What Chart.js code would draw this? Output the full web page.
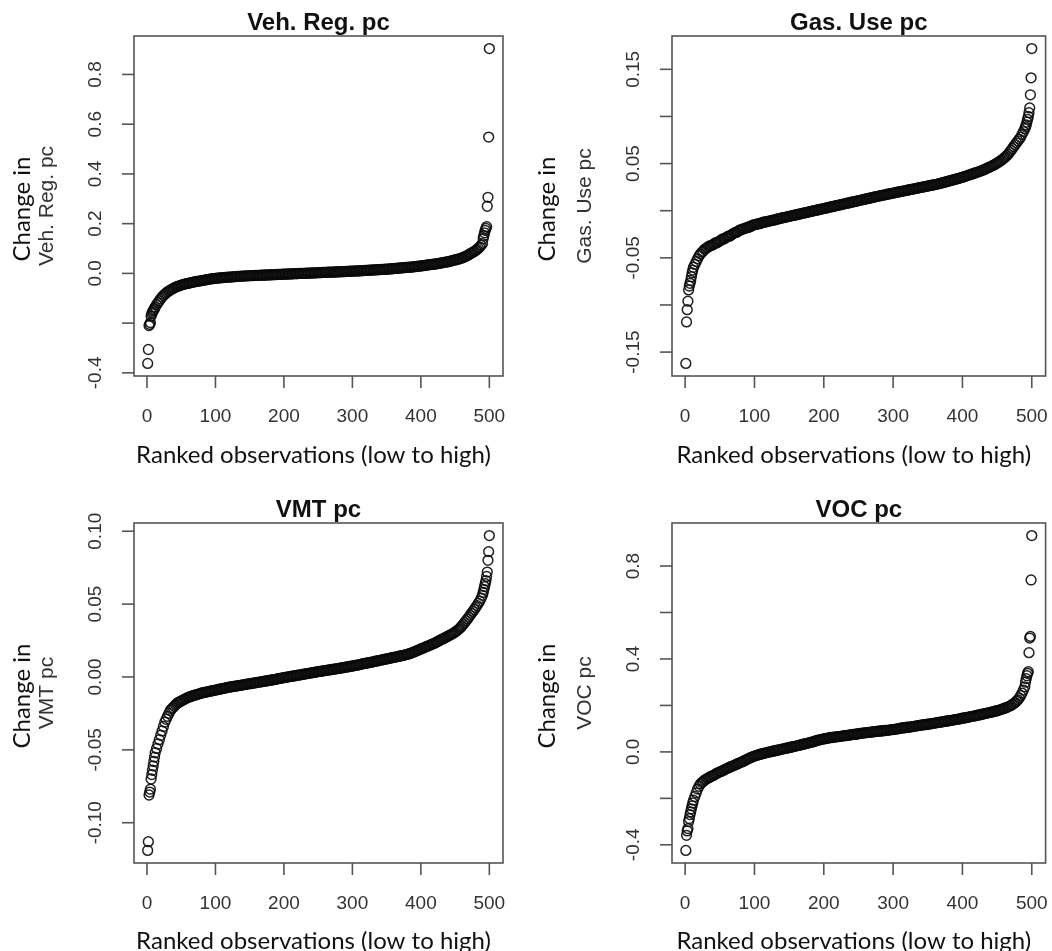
<!DOCTYPE html>
<html>
<head>
<meta charset="utf-8">
<script src="https://cdn.jsdelivr.net/npm/chart.js@4/dist/chart.umd.min.js"></script>
<style>
  body { margin: 0; background: #fff; width: 1052px; height: 951px; position: relative; overflow: hidden; }
  .panel { position: absolute; }
  .panel canvas { display: block; }
</style>
</head>
<body>
<div class="panel" style="left:0;top:0"><canvas id="vehReg" width="526" height="475"></canvas></div>
<div class="panel" style="left:526px;top:0"><canvas id="gasUse" width="526" height="475"></canvas></div>
<div class="panel" style="left:0;top:475px"><canvas id="vmt" width="526" height="476"></canvas></div>
<div class="panel" style="left:526px;top:475px"><canvas id="voc" width="526" height="476"></canvas></div>
<script>
// ranked observation numbers (same ranks for every panel)
const lowRanks = [1, 2, 3, 4, 5, 6, 7, 8, 9, 10, 11];
const midRanks = [
  12, 14, 16, 18, 20, 22, 24, 26, 28, 30,
  32, 34, 36, 38, 40, 42, 44, 46, 48, 50,
  52, 54, 56, 58, 60, 62, 64, 66, 68, 70,
  72, 74, 76, 78, 80, 82, 84, 86, 88, 90,
  92, 94, 96, 98, 100, 102, 104, 106, 108, 110,
  112, 114, 116, 118, 120, 122, 124, 126, 128, 130,
  132, 134, 136, 138, 140, 142, 144, 146, 148, 150,
  152, 154, 156, 158, 160, 162, 164, 166, 168, 170,
  172, 174, 176, 178, 180, 182, 184, 186, 188, 190,
  192, 194, 196, 198, 200, 202, 204, 206, 208, 210,
  212, 214, 216, 218, 220, 222, 224, 226, 228, 230,
  232, 234, 236, 238, 240, 242, 244, 246, 248, 250,
  252, 254, 256, 258, 260, 262, 264, 266, 268, 270,
  272, 274, 276, 278, 280, 282, 284, 286, 288, 290,
  292, 294, 296, 298, 300, 302, 304, 306, 308, 310,
  312, 314, 316, 318, 320, 322, 324, 326, 328, 330,
  332, 334, 336, 338, 340, 342, 344, 346, 348, 350,
  352, 354, 356, 358, 360, 362, 364, 366, 368, 370,
  372, 374, 376, 378, 380, 382, 384, 386, 388, 390,
  392, 394, 396, 398, 400, 402, 404, 406, 408, 410,
  412, 414, 416, 418, 420, 422, 424, 426, 428, 430,
  432, 434, 436, 438, 440, 442, 444, 446, 448, 450,
  452, 454, 456, 458, 460, 462, 464, 466, 468, 470,
  472, 474, 476, 478, 480, 482, 484, 486, 488, 490
];
const highRanks = [491, 492, 493, 494, 495, 496, 497, 498, 499, 500];
const ranks = [...lowRanks, ...midRanks, ...highRanks];

const vehRegValues = [
  -0.362, -0.306, -0.210, -0.205, -0.198, -0.172, -0.162, -0.156, -0.150, -0.146, -0.141,
  -0.135, -0.126, -0.118, -0.110, -0.102, -0.095, -0.089, -0.084, -0.079, -0.074,
  -0.071, -0.067, -0.064, -0.061, -0.058, -0.055, -0.053, -0.051, -0.049, -0.047,
  -0.045, -0.044, -0.042, -0.041, -0.040, -0.039, -0.037, -0.036, -0.035, -0.034,
  -0.032, -0.032, -0.031, -0.030, -0.029, -0.028, -0.027, -0.026, -0.025, -0.024,
  -0.023, -0.022, -0.021, -0.021, -0.020, -0.019, -0.019, -0.018, -0.018, -0.017,
  -0.017, -0.016, -0.016, -0.015, -0.015, -0.015, -0.014, -0.014, -0.013, -0.013,
  -0.012, -0.012, -0.012, -0.011, -0.011, -0.011, -0.010, -0.010, -0.010, -0.009,
  -0.009, -0.009, -0.009, -0.008, -0.008, -0.008, -0.008, -0.007, -0.007, -0.007,
  -0.007, -0.006, -0.006, -0.006, -0.006, -0.005, -0.005, -0.005, -0.005, -0.004,
  -0.004, -0.004, -0.004, -0.003, -0.003, -0.003, -0.003, -0.002, -0.002, -0.002,
  -0.002, -0.001, -0.001, -0.001, -0.001, 0.000, 0.000, 0.000, 0.000, 0.000,
  0.001, 0.001, 0.001, 0.001, 0.002, 0.002, 0.002, 0.002, 0.003, 0.003,
  0.003, 0.003, 0.004, 0.004, 0.004, 0.004, 0.005, 0.005, 0.005, 0.005,
  0.005, 0.006, 0.006, 0.006, 0.006, 0.007, 0.007, 0.007, 0.007, 0.008,
  0.008, 0.008, 0.009, 0.009, 0.009, 0.009, 0.010, 0.010, 0.010, 0.010,
  0.011, 0.011, 0.011, 0.012, 0.012, 0.012, 0.013, 0.013, 0.013, 0.014,
  0.014, 0.014, 0.015, 0.015, 0.015, 0.016, 0.016, 0.016, 0.017, 0.017,
  0.017, 0.018, 0.018, 0.019, 0.019, 0.020, 0.020, 0.021, 0.021, 0.022,
  0.022, 0.023, 0.023, 0.024, 0.024, 0.025, 0.025, 0.025, 0.026, 0.027,
  0.027, 0.028, 0.029, 0.029, 0.030, 0.031, 0.031, 0.032, 0.033, 0.034,
  0.035, 0.035, 0.036, 0.037, 0.037, 0.038, 0.039, 0.040, 0.041, 0.042,
  0.043, 0.044, 0.045, 0.046, 0.047, 0.048, 0.050, 0.051, 0.053, 0.054,
  0.055, 0.057, 0.058, 0.060, 0.062, 0.064, 0.067, 0.069, 0.072, 0.075,
  0.079, 0.082, 0.085, 0.088, 0.092, 0.096, 0.101, 0.106, 0.113, 0.120,
  0.140, 0.152, 0.163, 0.173, 0.181, 0.188, 0.270, 0.306, 0.548, 0.904
];

const gasUseValues = [
  -0.162, -0.118, -0.105, -0.096, -0.084, -0.080, -0.077, -0.074, -0.070, -0.066, -0.063,
  -0.060, -0.057, -0.054, -0.051, -0.048, -0.046, -0.044, -0.043, -0.041, -0.040,
  -0.039, -0.038, -0.037, -0.037, -0.036, -0.035, -0.034, -0.034, -0.033, -0.032,
  -0.031, -0.030, -0.030, -0.029, -0.028, -0.027, -0.027, -0.026, -0.025, -0.024,
  -0.023, -0.023, -0.022, -0.021, -0.020, -0.020, -0.019, -0.019, -0.018, -0.018,
  -0.017, -0.017, -0.016, -0.015, -0.015, -0.0145, -0.014, -0.014, -0.0135, -0.013,
  -0.0125, -0.012, -0.012, -0.0115, -0.011, -0.011, -0.0105, -0.010, -0.010, -0.0095,
  -0.009, -0.0087, -0.0083, -0.008, -0.0077, -0.0073, -0.007, -0.0067, -0.0063, -0.006,
  -0.0057, -0.0053, -0.005, -0.0047, -0.0043, -0.004, -0.0037, -0.0033, -0.003, -0.0027,
  -0.0023, -0.002, -0.0017, -0.0013, -0.001, -0.0007, -0.0003, 0.000, 0.0003, 0.0007,
  0.001, 0.0013, 0.0017, 0.002, 0.0023, 0.0027, 0.003, 0.0033, 0.0037, 0.004,
  0.0043, 0.0047, 0.005, 0.0053, 0.0057, 0.006, 0.0063, 0.0067, 0.007, 0.0073,
  0.0077, 0.008, 0.0083, 0.0087, 0.009, 0.0093, 0.0097, 0.010, 0.0103, 0.0107,
  0.011, 0.0113, 0.0117, 0.012, 0.0123, 0.0127, 0.013, 0.0133, 0.0137, 0.014,
  0.0143, 0.0147, 0.015, 0.0153, 0.0157, 0.016, 0.0163, 0.0166, 0.0169, 0.0172,
  0.0175, 0.0178, 0.0181, 0.0184, 0.0187, 0.019, 0.0193, 0.0196, 0.0199, 0.0202,
  0.0205, 0.0208, 0.0211, 0.0214, 0.0217, 0.022, 0.0223, 0.0226, 0.0229, 0.0232,
  0.0235, 0.0238, 0.0241, 0.0244, 0.0247, 0.025, 0.0253, 0.0256, 0.0259, 0.0262,
  0.0265, 0.0268, 0.0271, 0.0274, 0.0277, 0.028, 0.0283, 0.0287, 0.029, 0.0294,
  0.0298, 0.0302, 0.0306, 0.031, 0.0314, 0.0318, 0.0322, 0.0326, 0.033, 0.0334,
  0.0338, 0.0342, 0.0346, 0.035, 0.0355, 0.036, 0.0365, 0.037, 0.0375, 0.038,
  0.0385, 0.039, 0.0395, 0.040, 0.0405, 0.041, 0.0415, 0.042, 0.0426, 0.0432,
  0.0438, 0.0445, 0.0452, 0.0459, 0.0466, 0.0473, 0.048, 0.0488, 0.0496, 0.0505,
  0.0515, 0.0525, 0.0535, 0.0545, 0.0558, 0.057, 0.0585, 0.060, 0.062, 0.064,
  0.066, 0.068, 0.070, 0.072, 0.074, 0.076, 0.078, 0.081, 0.084, 0.087,
  0.089, 0.091, 0.094, 0.097, 0.100, 0.104, 0.109, 0.123, 0.141, 0.172
];

const vmtValues = [
  -0.119, -0.113, -0.081, -0.079, -0.077, -0.070, -0.067, -0.064, -0.061, -0.058, -0.055,
  -0.052, -0.049, -0.046, -0.043, -0.040, -0.037, -0.034, -0.031, -0.029, -0.027,
  -0.025, -0.023, -0.022, -0.021, -0.020, -0.019, -0.018, -0.0175, -0.017, -0.0165,
  -0.016, -0.0155, -0.015, -0.0145, -0.014, -0.0137, -0.0134, -0.013, -0.0127, -0.0124,
  -0.0122, -0.0119, -0.0116, -0.0113, -0.011, -0.0108, -0.0106, -0.0104, -0.0102, -0.010,
  -0.0098, -0.0096, -0.0094, -0.0092, -0.009, -0.0088, -0.0086, -0.0084, -0.0082, -0.008,
  -0.0078, -0.0076, -0.0074, -0.0072, -0.007, -0.0068, -0.0067, -0.0065, -0.0064, -0.0062,
  -0.0061, -0.0059, -0.0058, -0.0056, -0.0054, -0.0053, -0.0051, -0.0049, -0.0048, -0.0046,
  -0.0045, -0.0043, -0.0042, -0.004, -0.0038, -0.0037, -0.0035, -0.0034, -0.0032, -0.003,
  -0.0029, -0.0027, -0.0026, -0.0024, -0.0022, -0.0021, -0.0019, -0.0018, -0.0016, -0.0014,
  -0.0011, -0.001, -0.0008, -0.0006, -0.0005, -0.0003, -0.0001, 0.0000, 0.0002, 0.0004,
  0.0005, 0.0007, 0.0008, 0.001, 0.0012, 0.0013, 0.0015, 0.0017, 0.0018, 0.002,
  0.0022, 0.0023, 0.0025, 0.0027, 0.0028, 0.003, 0.0031, 0.0033, 0.0035, 0.0036,
  0.0038, 0.0039, 0.0041, 0.0042, 0.0044, 0.0045, 0.0047, 0.0048, 0.005, 0.0051,
  0.0053, 0.0054, 0.0056, 0.0057, 0.0059, 0.006, 0.0062, 0.0064, 0.0065, 0.0067,
  0.0069, 0.007, 0.0072, 0.0074, 0.0075, 0.0077, 0.0079, 0.008, 0.0082, 0.0084,
  0.0087, 0.0089, 0.0091, 0.0093, 0.0094, 0.0096, 0.0098, 0.010, 0.0102, 0.0104,
  0.0106, 0.0108, 0.011, 0.0112, 0.0114, 0.0116, 0.0118, 0.012, 0.0122, 0.0124,
  0.0126, 0.0128, 0.013, 0.0132, 0.0134, 0.0136, 0.0138, 0.014, 0.0142, 0.0144,
  0.0146, 0.0148, 0.015, 0.0153, 0.0155, 0.0158, 0.0161, 0.0164, 0.0168, 0.0172,
  0.0176, 0.018, 0.0184, 0.0188, 0.0192, 0.0196, 0.020, 0.0204, 0.0208, 0.0212,
  0.0216, 0.022, 0.0224, 0.0228, 0.0232, 0.0237, 0.0242, 0.0247, 0.0252, 0.0257,
  0.0261, 0.0266, 0.0271, 0.0276, 0.0281, 0.0286, 0.0291, 0.0296, 0.0301, 0.0308,
  0.0315, 0.0322, 0.033, 0.034, 0.035, 0.0362, 0.0374, 0.0386, 0.0398, 0.041,
  0.0423, 0.0437, 0.045, 0.0463, 0.0477, 0.049, 0.0505, 0.052, 0.054, 0.056,
  0.058, 0.060, 0.062, 0.064, 0.066, 0.069, 0.072, 0.080, 0.086, 0.097
];

const vocValues = [
  -0.424, -0.359, -0.340, -0.330, -0.300, -0.287, -0.270, -0.258, -0.245, -0.232, -0.220,
  -0.208, -0.192, -0.176, -0.160, -0.148, -0.138, -0.132, -0.127, -0.122, -0.118,
  -0.115, -0.111, -0.108, -0.105, -0.102, -0.099, -0.095, -0.092, -0.089, -0.086,
  -0.084, -0.081, -0.078, -0.075, -0.072, -0.069, -0.066, -0.064, -0.061, -0.059,
  -0.056, -0.053, -0.051, -0.048, -0.045, -0.043, -0.040, -0.037, -0.034, -0.031,
  -0.028, -0.025, -0.023, -0.020, -0.018, -0.016, -0.014, -0.012, -0.010, -0.009,
  -0.007, -0.006, -0.004, -0.003, -0.001, 0.000, 0.001, 0.003, 0.004, 0.005,
  0.007, 0.008, 0.009, 0.011, 0.012, 0.013, 0.015, 0.016, 0.017, 0.019,
  0.020, 0.021, 0.023, 0.024, 0.025, 0.027, 0.028, 0.030, 0.031, 0.033,
  0.034, 0.036, 0.037, 0.039, 0.040, 0.042, 0.043, 0.045, 0.047, 0.049,
  0.051, 0.052, 0.053, 0.055, 0.056, 0.057, 0.058, 0.059, 0.061, 0.062,
  0.062, 0.063, 0.064, 0.065, 0.066, 0.066, 0.067, 0.068, 0.069, 0.070,
  0.070, 0.071, 0.072, 0.073, 0.074, 0.075, 0.075, 0.076, 0.077, 0.078,
  0.080, 0.080, 0.081, 0.082, 0.082, 0.083, 0.084, 0.084, 0.085, 0.086,
  0.087, 0.087, 0.088, 0.089, 0.089, 0.090, 0.091, 0.091, 0.092, 0.093,
  0.093, 0.094, 0.095, 0.096, 0.096, 0.097, 0.098, 0.099, 0.100, 0.101,
  0.103, 0.103, 0.104, 0.105, 0.106, 0.106, 0.107, 0.108, 0.109, 0.110,
  0.111, 0.112, 0.113, 0.114, 0.115, 0.116, 0.117, 0.117, 0.118, 0.119,
  0.120, 0.121, 0.122, 0.123, 0.124, 0.125, 0.126, 0.127, 0.128, 0.129,
  0.130, 0.131, 0.132, 0.133, 0.134, 0.135, 0.136, 0.137, 0.138, 0.139,
  0.140, 0.141, 0.142, 0.144, 0.145, 0.146, 0.147, 0.148, 0.149, 0.151,
  0.152, 0.153, 0.154, 0.155, 0.157, 0.158, 0.159, 0.160, 0.162, 0.163,
  0.165, 0.166, 0.167, 0.169, 0.170, 0.171, 0.173, 0.174, 0.176, 0.177,
  0.179, 0.181, 0.183, 0.185, 0.187, 0.189, 0.192, 0.194, 0.197, 0.200,
  0.204, 0.208, 0.213, 0.218, 0.224, 0.232, 0.242, 0.253, 0.266, 0.280,
  0.300, 0.315, 0.328, 0.338, 0.345, 0.427, 0.490, 0.497, 0.740, 0.931
];

// tick marks and their printed labels ('' = tick drawn without a label)
const xTicks = [0, 100, 200, 300, 400, 500];
const vehRegTicks = [-0.4, -0.2, 0, 0.2, 0.4, 0.6, 0.8];
const vehRegTickLabels = ['-0.4', '', '0.0', '0.2', '0.4', '0.6', '0.8'];
const gasUseTicks = [-0.15, -0.10, -0.05, 0, 0.05, 0.10, 0.15];
const gasUseTickLabels = ['-0.15', '', '-0.05', '', '0.05', '', '0.15'];
const vmtTicks = [-0.10, -0.05, 0, 0.05, 0.10];
const vmtTickLabels = ['-0.10', '-0.05', '0.00', '0.05', '0.10'];
const vocTicks = [-0.4, -0.2, 0, 0.2, 0.4, 0.6, 0.8];
const vocTickLabels = ['-0.4', '', '0.0', '', '0.4', '', '0.8'];

const SANS = '"Liberation Sans", Arial, sans-serif';
const HUMANIST = 'Lato, "Open Sans", sans-serif';

function drawRotated(ctx, text, x, y) {
  ctx.save();
  ctx.translate(x, y);
  ctx.rotate(-Math.PI / 2);
  ctx.fillText(text, 0, 0);
  ctx.restore();
}

// base-graphics look: box, outward ticks, upright-reading y labels, titles
const rStyleAxes = {
  id: 'rStyleAxes',
  afterDraw(chart, args, opts) {
    const { ctx, chartArea: a, scales: { x, y } } = chart;
    const cx = (a.left + a.right) / 2;
    const cy = (a.top + a.bottom) / 2;
    ctx.save();
    ctx.strokeStyle = '#555';
    ctx.lineWidth = 1.6;
    ctx.strokeRect(a.left, a.top, a.right - a.left, a.bottom - a.top);

    ctx.fillStyle = '#333';
    ctx.font = '19px ' + SANS;
    ctx.textAlign = 'center';
    ctx.textBaseline = 'alphabetic';
    xTicks.forEach(v => {
      const px = x.getPixelForValue(v);
      ctx.beginPath();
      ctx.moveTo(px, a.bottom);
      ctx.lineTo(px, a.bottom + 12);
      ctx.stroke();
      ctx.fillText(String(v), px, a.bottom + 46);
    });
    opts.yTicks.forEach((v, i) => {
      const py = y.getPixelForValue(v);
      ctx.beginPath();
      ctx.moveTo(a.left - 12, py);
      ctx.lineTo(a.left, py);
      ctx.stroke();
      if (opts.yLabels[i]) drawRotated(ctx, opts.yLabels[i], a.left - 33, py);
    });

    // main title
    ctx.fillStyle = '#111';
    ctx.font = 'bold 24px ' + SANS;
    ctx.fillText(opts.title, cx, a.top - 6);

    // axis titles
    ctx.font = '24px ' + HUMANIST;
    ctx.fillText('Ranked observations (low to high)', cx - 5, a.bottom + opts.xTitleGap);
    drawRotated(ctx, 'Change in', a.left - opts.changeGap, cy + 3);
    ctx.fillStyle = '#333';
    ctx.font = '21px ' + SANS;
    drawRotated(ctx, opts.title, a.left - 81, cy);
    ctx.restore();
  }
};

// y limits padded by 4% of the data range, like R's default axis style
function paddedRange(values) {
  const lo = Math.min(...values), hi = Math.max(...values);
  const pad = (hi - lo) * 0.04;
  return { min: lo - pad, max: hi + pad };
}

function rankPlot(id, values, title, yTicks, yLabels, layout) {
  const xr = paddedRange(ranks);
  const yr = paddedRange(values);
  return new Chart(document.getElementById(id), {
    type: 'scatter',
    data: {
      datasets: [{
        data: ranks.map((r, i) => ({ x: r, y: values[i] })),
        pointRadius: 4.9,
        pointBorderWidth: 1.5,
        pointBorderColor: 'rgba(10,10,10,0.9)',
        pointBackgroundColor: 'rgba(0,0,0,0)',
        pointHoverRadius: 4.9
      }]
    },
    options: {
      responsive: false,
      animation: false,
      layout: { padding: layout.padding },
      scales: {
        x: { type: 'linear', display: false, min: xr.min, max: xr.max },
        y: { type: 'linear', display: false, min: yr.min, max: yr.max }
      },
      plugins: {
        legend: { display: false },
        tooltip: { enabled: false },
        rStyleAxes: {
          title: title,
          yTicks: yTicks,
          yLabels: yLabels,
          xTitleGap: layout.xTitleGap,
          changeGap: layout.changeGap
        }
      }
    },
    plugins: [rStyleAxes]
  });
}

rankPlot('vehReg', vehRegValues, 'Veh. Reg. pc', vehRegTicks, vehRegTickLabels,
  { padding: { left: 134, top: 36, right: 23, bottom: 99 }, xTitleGap: 87, changeGap: 104 });
rankPlot('gasUse', gasUseValues, 'Gas. Use pc', gasUseTicks, gasUseTickLabels,
  { padding: { left: 146, top: 36, right: 6, bottom: 99 }, xTitleGap: 87, changeGap: 117 });
rankPlot('vmt', vmtValues, 'VMT pc', vmtTicks, vmtTickLabels,
  { padding: { left: 134, top: 48, right: 23, bottom: 88 }, xTitleGap: 86, changeGap: 104 });
rankPlot('voc', vocValues, 'VOC pc', vocTicks, vocTickLabels,
  { padding: { left: 146, top: 48, right: 6, bottom: 88 }, xTitleGap: 86, changeGap: 117 });
</script>
</body>
</html>
